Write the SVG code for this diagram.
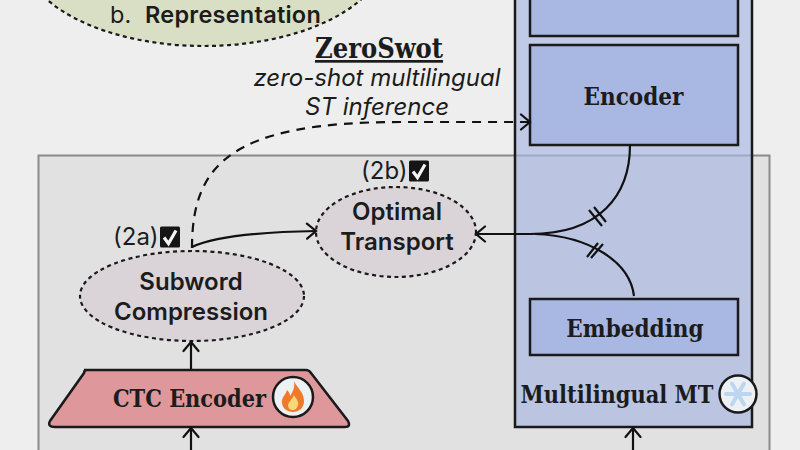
<svg xmlns="http://www.w3.org/2000/svg" width="800" height="450" viewBox="0 0 800 450">
<defs>
<marker id="arr" markerUnits="userSpaceOnUse" markerWidth="14" markerHeight="18" refX="11" refY="9" orient="auto"><path d="M2 1.500L11 9L2 16.500" fill="none" stroke="#111" stroke-width="2.200" stroke-linecap="round"/></marker>
<g id="chk"><rect x="-10" y="-10.500" width="20" height="21" rx="1.500" fill="#151515"/><path d="M-6 0.500L-1.500 6.500L6 -6.500" fill="none" stroke="#f4f4f4" stroke-width="3.200"/></g>
</defs>
<style>
.s{font-family:Inter,"Liberation Sans",sans-serif;fill:#1c1c1c}
.b{font-weight:600;font-size:24px;text-anchor:middle}
.r{font-family:"DejaVu Serif Condensed","DejaVu Serif","Liberation Serif",serif;font-weight:600;fill:#1c1c1c;text-anchor:middle}
.box{stroke:#1a1a1a;stroke-width:2.500}
.el{fill:#dad4d9;stroke:#1a1a1a;stroke-width:2.200;stroke-dasharray:4 3.500}
.c{fill:none;stroke:#111;stroke-width:2.200}
</style>
<rect width="800" height="450" fill="#eeeeee"/>
<rect id="panel" x="38.500" y="155.500" width="731" height="300" fill="#e1e1e1" stroke="#8a8a8a" stroke-width="2"/>
<g id="mt">
<rect x="515" y="-10" width="237" height="437" fill="#a9b8e3" fill-opacity=".68" stroke="#1a1a1a" stroke-width="2.500"/>
<text class="r" x="617" y="403" font-size="23.300">Multilingual MT</text>
<circle cx="738" cy="394" r="18.500" fill="#eef1f4" stroke="#1a1a1a" stroke-width="2.500"/>
<g stroke="#bcd6f2" stroke-width="4" stroke-linecap="round"><path d="M726 394H750M732 383.500L744 404.500M744 383.500L732 404.500"/></g>
</g>
<g id="prev"><rect class="box" x="530" y="-10" width="208" height="46" fill="#a9b8e3"/></g>
<g id="encoder"><rect class="box" x="530" y="45" width="208" height="100" fill="#a9b8e3"/><text class="r" x="633.500" y="105" font-size="24">Encoder</text></g>
<g id="embedding"><rect class="box" x="530" y="299" width="208" height="56" fill="#a9b8e3"/><text class="r" x="635" y="337" font-size="24">Embedding</text></g>
<g id="rep"><ellipse cx="204" cy="-48" rx="182" ry="94" fill="#d8dfc5" stroke="#1a1a1a" stroke-width="2.200" stroke-dasharray="4 3.500"/>
<text class="s" x="110" y="23" font-size="23.500">b.</text><text class="s" x="145" y="23" font-size="23.500" font-weight="600" letter-spacing=".25">Representation</text></g>
<g id="zeroswot"><text class="r" x="379" y="58" font-size="27" text-decoration="underline">ZeroSwot</text>
<text class="s" x="377" y="86" font-size="24" font-style="italic" text-anchor="middle">zero-shot multilingual</text>
<text class="s" x="377" y="115" font-size="24" font-style="italic" text-anchor="middle">ST inference</text></g>
<g id="subword"><ellipse class="el" cx="192" cy="296" rx="112" ry="45"/><text class="s b" x="191" y="290">Subword</text><text class="s b" x="191" y="320">Compression</text>
<text class="s" x="113" y="245" font-size="24">(2a)</text><use href="#chk" x="170" y="237"/></g>
<g id="ot"><ellipse class="el" cx="396" cy="232" rx="80" ry="45"/><text class="s b" x="397" y="220">Optimal</text><text class="s b" x="397" y="250">Transport</text>
<text class="s" x="361" y="179" font-size="24">(2b)</text><use href="#chk" x="419" y="171"/></g>
<g id="ctc"><path d="M84 370H306Q309 370 311 373L348 421Q351 427 345 427H55Q47 427 50 421L84 373Q84 370 87 370Z" fill="#de979b" stroke="#1a1a1a" stroke-width="2.500"/>
<text class="r" x="189.500" y="407" font-size="23.300">CTC Encoder</text>
<circle cx="293" cy="397" r="20" fill="#eef1f4" stroke="#1a1a1a" stroke-width="2.500"/>
<path d="M294 381C297 388 304 392 304 401C304 408 299 412 293 412C286 412 281 407 282 400C283 396 286 394 287 390C289 392 290 394 290 396C293 392 295 387 294 381Z" fill="#ef7b2a"/>
<path d="M294 395C296 399 299 401 298 405C297 409 295 410 293 410C290 410 288 408 288 405C289 401 292 400 294 395Z" fill="#f8d878"/></g>
<g id="connectors">
<path class="c" d="M191 369V342" marker-end="url(#arr)"/>
<path class="c" d="M191 455V428" marker-end="url(#arr)"/>
<path class="c" d="M633 455V428" marker-end="url(#arr)"/>
<path class="c" d="M192 247C215 236 260 232 316 231" marker-end="url(#arr)"/>
<path class="c" stroke-dasharray="9 7" d="M192 248C192 165 230 122 400 122H530" marker-end="url(#arr)"/>
<path class="c" d="M630 145C630 195 600 234 530 234H476" marker-end="url(#arr)"/>
<path class="c" d="M634 296C630 262 590 236 535 234"/>
<path class="c" stroke-width="1.800" d="M589 210L602 226M594 207L606 222M587 257L598 243M591 258L603 244"/>
</g>
</svg>
